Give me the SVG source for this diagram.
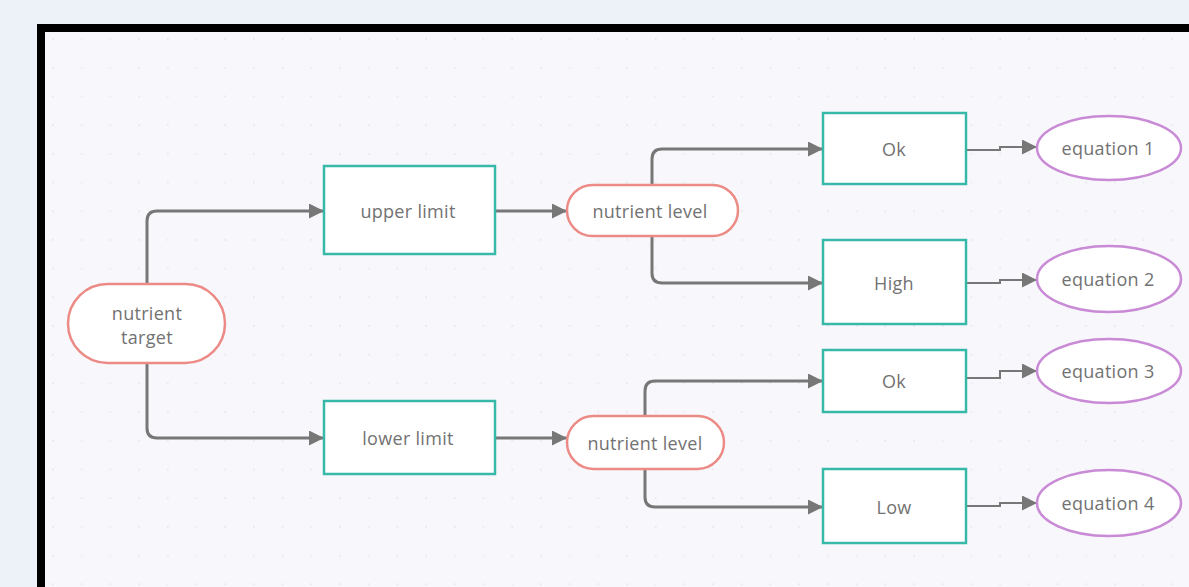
<svg xmlns="http://www.w3.org/2000/svg" width="1189" height="587" viewBox="0 0 1189 587">
<defs>
<pattern id="dots" x="52" y="38" width="28.7" height="28.7" patternUnits="userSpaceOnUse">
<circle cx="1" cy="1" r="1" fill="#e6e6ee"/>
</pattern>
<marker id="arr" viewBox="0 0 10 10" refX="10" refY="5" markerWidth="5" markerHeight="5" markerUnits="strokeWidth" orient="auto">
<path d="M0,0 L10,5 L0,10 Z" fill="#777"/>
</marker>
<marker id="arr2" viewBox="0 0 10 10" refX="10" refY="5" markerWidth="7.5" markerHeight="7.5" markerUnits="strokeWidth" orient="auto">
<path d="M0,0 L10,5 L0,10 Z" fill="#777"/>
</marker>
</defs>
<style>
.lbl{font-family:"Open Sans","Liberation Sans",sans-serif;font-size:18px;letter-spacing:0.3px;fill:#727272;text-anchor:middle;dominant-baseline:central}
.red{fill:#ffffff;stroke:#ec8a86;stroke-width:2.5}
.teal{fill:#ffffff;stroke:#38b8a8;stroke-width:2.5}
.pur{fill:#ffffff;stroke:#c98ad6;stroke-width:2.5}
.con{fill:none;stroke:#777;stroke-width:3;marker-end:url(#arr)}
.con2{fill:none;stroke:#777;stroke-width:2;marker-end:url(#arr2)}
</style>
<rect x="0" y="0" width="1189" height="587" fill="#edf2f9"/>
<rect x="41" y="28" width="1200" height="600" fill="#f8f8fc" stroke="#000" stroke-width="8"/>
<rect x="45" y="32" width="1144" height="555" fill="url(#dots)"/>

<g id="connectors">
<path class="con" d="M147,284 V221 Q147,211 157,211 H324"/>
<path class="con" d="M147,363 V428 Q147,438 157,438 H324"/>
<path class="con" d="M495,211 H567"/>
<path class="con" d="M495,438 H567"/>
<path class="con" d="M652,185 V159 Q652,149 662,149 H823"/>
<path class="con" d="M652,236 V273 Q652,283 662,283 H823"/>
<path class="con" d="M645,416 V391 Q645,381 655,381 H823"/>
<path class="con" d="M645,469 V497 Q645,507 655,507 H823"/>
<path class="con2" d="M966,150 H1000 V147 H1037"/>
<path class="con2" d="M966,283 H1000 V280 H1037"/>
<path class="con2" d="M966,378 H1000 V371 H1037"/>
<path class="con2" d="M966,506 H1000 V503 H1037"/>
</g>

<g id="nutrient-target">
<rect class="red" x="68" y="284" width="157" height="79" rx="39.5"/>
<text class="lbl" x="147" y="313">nutrient</text>
<text class="lbl" x="147" y="337">target</text>
</g>
<g id="upper-limit">
<rect class="teal" x="324" y="166" width="171" height="88"/>
<text class="lbl" x="408" y="211">upper limit</text>
</g>
<g id="lower-limit">
<rect class="teal" x="324" y="401" width="171" height="73"/>
<text class="lbl" x="408" y="438">lower limit</text>
</g>
<g id="nutrient-level-1">
<rect class="red" x="567" y="185" width="171" height="51" rx="25.5"/>
<text class="lbl" x="650" y="211">nutrient level</text>
</g>
<g id="nutrient-level-2">
<rect class="red" x="567" y="416" width="157" height="53" rx="26.5"/>
<text class="lbl" x="645" y="443">nutrient level</text>
</g>
<g id="ok-1">
<rect class="teal" x="823" y="113" width="143" height="71"/>
<text class="lbl" x="894" y="149">Ok</text>
</g>
<g id="high">
<rect class="teal" x="823" y="240" width="143" height="84"/>
<text class="lbl" x="894" y="283">High</text>
</g>
<g id="ok-2">
<rect class="teal" x="823" y="350" width="143" height="62"/>
<text class="lbl" x="894" y="381">Ok</text>
</g>
<g id="low">
<rect class="teal" x="823" y="469" width="143" height="74"/>
<text class="lbl" x="894" y="507">Low</text>
</g>
<g id="equation-1">
<ellipse class="pur" cx="1109" cy="148" rx="72" ry="32"/>
<text class="lbl" x="1108" y="148">equation 1</text>
</g>
<g id="equation-2">
<ellipse class="pur" cx="1109" cy="279" rx="72" ry="33"/>
<text class="lbl" x="1108" y="279">equation 2</text>
</g>
<g id="equation-3">
<ellipse class="pur" cx="1109" cy="371" rx="72" ry="32"/>
<text class="lbl" x="1108" y="371">equation 3</text>
</g>
<g id="equation-4">
<ellipse class="pur" cx="1109" cy="503" rx="72" ry="33"/>
<text class="lbl" x="1108" y="503">equation 4</text>
</g>
</svg>
